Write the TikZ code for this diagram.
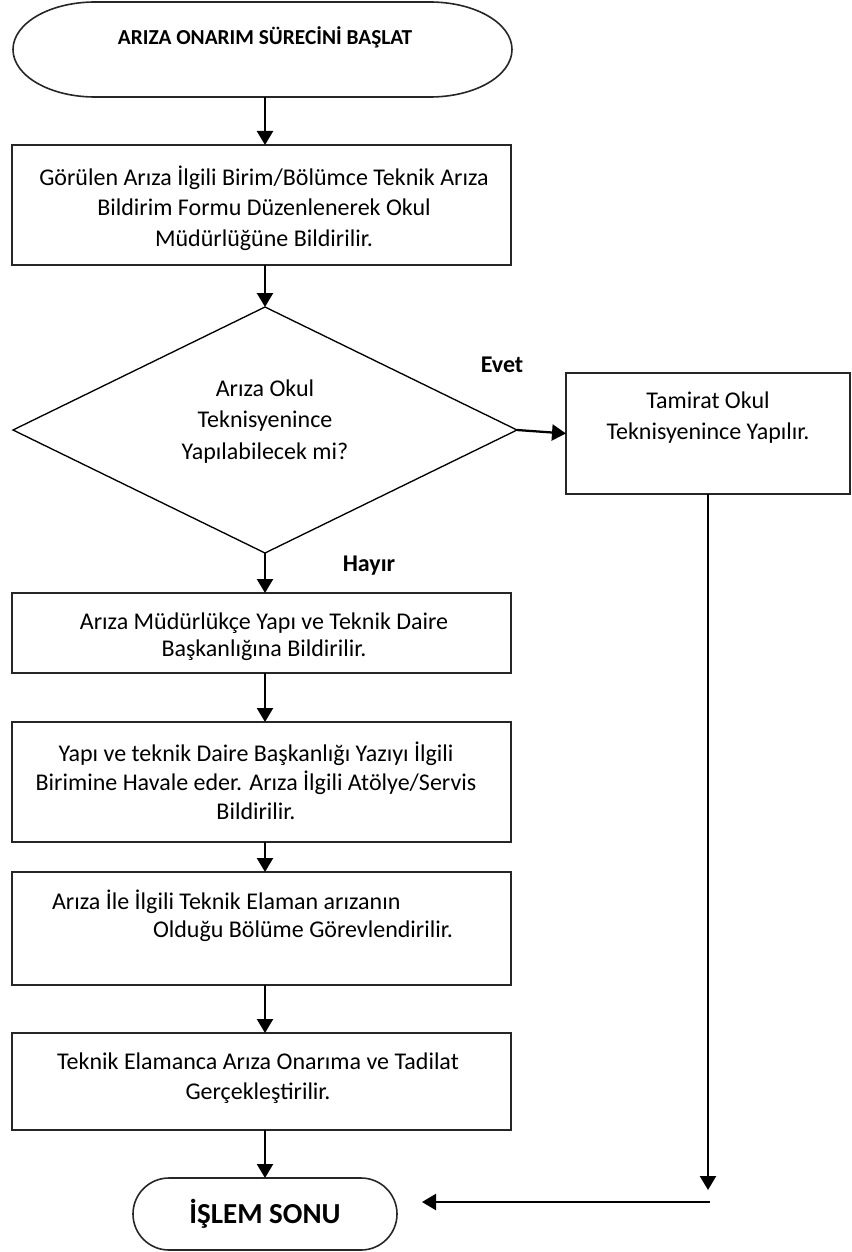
\documentclass[tikz,border=0pt]{standalone}
\usepackage{fontspec}
\setmainfont{Carlito}
\usetikzlibrary{arrows.meta,shapes.geometric}
\begin{document}
\begin{tikzpicture}[x=0.75pt,y=-0.75pt,
  every node/.style={inner sep=0pt,outer sep=0pt},
  box/.style={draw=black!85,line width=1.4pt,minimum width=374.25pt},
  term/.style={draw=black!85,line width=1.2pt},
  txt/.style={align=center,font=\fontsize{18}{22.5}\selectfont},
  lbl/.style={font=\fontsize{18}{22.5}\selectfont\bfseries},
  arr/.style={line width=1.7pt,-{Triangle[width=12pt,length=10.5pt]}}]
\useasboundingbox (0,0) rectangle (851,1252);
\coordinate (spine) at (265,0);

% start terminal
\node[minimum width=375pt,minimum height=71.25pt] (start) at (262.5,49.5) {};
\draw[term] (95,2) -- (430,2)
  arc[start angle=-90,end angle=90,x radius=82,y radius=47.5] -- (95,97)
  arc[start angle=90,end angle=270,x radius=82,y radius=47.5] -- cycle;
\node[font=\fontsize{16}{20}\selectfont\bfseries] (starttxt) at (265,37) {ARIZA ONARIM SÜRECİNİ BAŞLAT};

% step 1
\node[box,minimum height=90pt] (b1) at (261.5,205) {};
\node[txt,font=\fontsize{18}{22.9}\selectfont] (t1) at (264,208) {Görülen Arıza İlgili Birim/Bölümce Teknik Arıza\\Bildirim Formu Düzenlenerek Okul\\Müdürlüğüne Bildirilir.};

% decision
\node[draw,diamond,line width=1pt,minimum width=378pt,minimum height=184.5pt] (d) at (265,430) {};
\node[txt,font=\fontsize{18}{23.6}\selectfont] (dt) at (265,421.5) {Arıza Okul\\Teknisyenince\\Yapılabilecek mi?};
\node[lbl] (yes) at (502,365) {Evet};
\node[lbl] (no) at (369,566) {Hayır};

% yes branch
\node[box,minimum width=213pt,minimum height=90.75pt] (r) at (708,433.5) {};
\node[txt,font=\fontsize{18}{23.25}\selectfont] (rt) at (708,417.5) {Tamirat Okul\\Teknisyenince Yapılır.};

% no branch
\node[box,minimum height=60pt] (b2) at (261.5,633) {};
\node[txt,font=\fontsize{18}{20.25}\selectfont] (t2) at (264,636.5) {Arıza Müdürlükçe Yapı ve Teknik Daire\\Başkanlığına Bildirilir.};

\node[box,minimum height=90pt] (b3) at (261.5,782) {};
\node[txt,font=\fontsize{18}{21.75}\selectfont] (t3) at (256,781) {Yapı ve teknik Daire Başkanlığı Yazıyı İlgili\\Birimine Havale eder. Arıza İlgili Atölye/Servis\\Bildirilir.};

\node[box,minimum height=84.75pt] (b4) at (261.5,928.5) {};
\node[txt,align=left,anchor=west,font=\fontsize{18}{21}\selectfont] (t4) at (52,916) {Arıza İle İlgili Teknik Elaman arızanın\\\hspace*{75.75pt}Olduğu Bölüme Görevlendirilir.};

\node[box,minimum height=72.75pt] (b5) at (261.5,1081.5) {};
\node[txt,font=\fontsize{18}{22.5}\selectfont] (t5) at (258,1078) {Teknik Elamanca Arıza Onarıma ve Tadilat\\Gerçekleştirilir.};

% end terminal
\node[term,rounded corners=27pt,minimum width=198pt,minimum height=54pt,
  font=\fontsize{21.75}{26}\selectfont\bfseries] (end) at (265,1214) {İŞLEM SONU};

% connectors
\draw[arr] (start.south -| spine) -- (b1.north -| spine);
\draw[arr] (b1.south -| spine) -- (d.north);
\draw[arr] (d.east) -- (r.west);
\draw[arr] (d.south) -- (b2.north -| spine);
\draw[arr] (b2.south -| spine) -- (b3.north -| spine);
\draw[arr] (b3.south -| spine) -- (b4.north -| spine);
\draw[arr] (b4.south -| spine) -- (b5.north -| spine);
\draw[arr] (b5.south -| spine) -- (end.north);

\coordinate (down) at (708,1190);
\coordinate (turn) at (710,1202);
\draw[arr] (r.south) -- (down);
\draw[arr,shorten >=18.75pt] (turn) -- (turn -| end.east);
\end{tikzpicture}
\end{document}
